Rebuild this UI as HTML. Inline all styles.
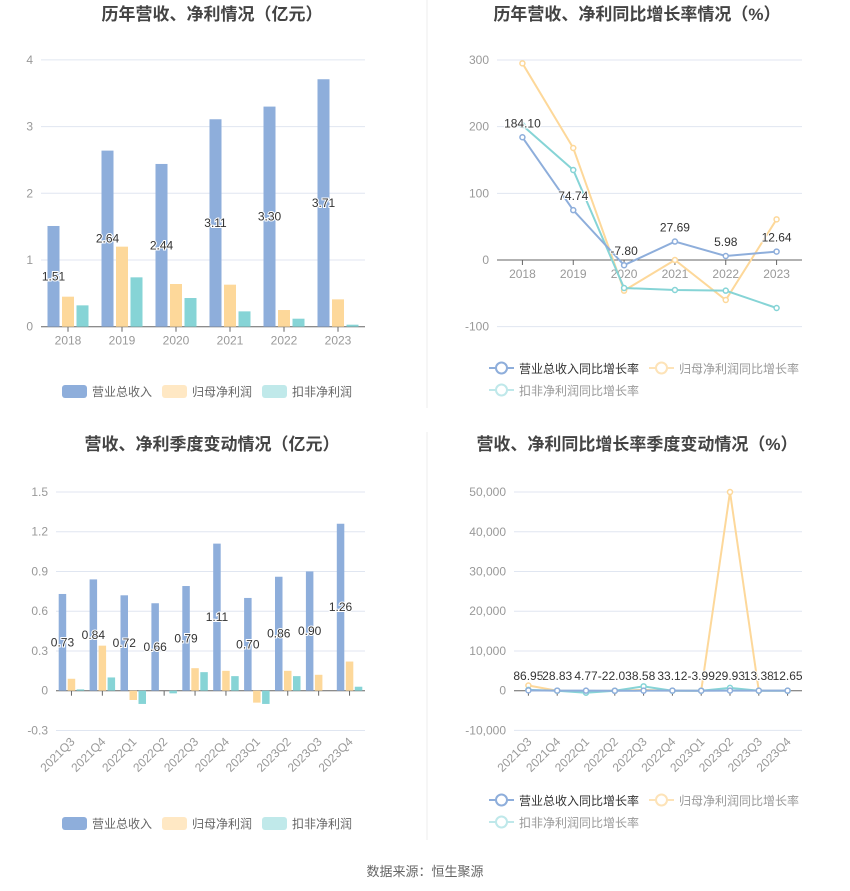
<!DOCTYPE html>
<html><head><meta charset="utf-8">
<style>
body{margin:0;background:#fff;width:850px;height:891px;overflow:hidden;font-family:"Liberation Sans","Noto Sans CJK SC",sans-serif}
svg{position:absolute;left:0;top:0}
</style></head>
<body>
<svg id="c" width="850" height="891" xmlns="http://www.w3.org/2000/svg">
<line x1="427" y1="0" x2="427" y2="408" stroke="#eee"/>
<line x1="427" y1="432" x2="427" y2="840" stroke="#eee"/>
<text x="212" y="20" text-anchor="middle" font-size="17" font-weight="bold" fill="#444">历年营收、净利情况（亿元）</text>
<text x="637" y="20" text-anchor="middle" font-size="17" font-weight="bold" fill="#444">历年营收、净利同比增长率情况（%）</text>
<text x="212" y="450" text-anchor="middle" font-size="17" font-weight="bold" fill="#444">营收、净利季度变动情况（亿元）</text>
<text x="637" y="450" text-anchor="middle" font-size="17" font-weight="bold" fill="#444">营收、净利同比增长率季度变动情况（%）</text>
<text x="425" y="876" text-anchor="middle" font-size="13" fill="#666">数据来源：恒生聚源</text>
</svg>
<script>
const years=["2018","2019","2020","2021","2022","2023"];
const revA=[1.51,2.64,2.44,3.11,3.30,3.71];
const netA=[0.45,1.20,0.64,0.63,0.25,0.41];
const dedA=[0.32,0.74,0.43,0.23,0.12,0.03];
const yTicksA=[0,1,2,3,4];
const revGA=[184.10,74.74,-7.80,27.69,5.98,12.64];
const netGA=[295,168,-46,0,-60,61];
const dedGA=[202,135,-42,-45,-46,-72];
const yTicksB=[-100,0,100,200,300];
const quarters=["2021Q3","2021Q4","2022Q1","2022Q2","2022Q3","2022Q4","2023Q1","2023Q2","2023Q3","2023Q4"];
const revQ=[0.73,0.84,0.72,0.66,0.79,1.11,0.70,0.86,0.90,1.26];
const netQ=[0.09,0.34,-0.07,0,0.17,0.15,-0.09,0.15,0.12,0.22];
const dedQ=[0.01,0.10,-0.10,-0.02,0.14,0.11,-0.10,0.11,0,0.03];
const yTicksC=[-0.3,0,0.3,0.6,0.9,1.2,1.5];
const revGQ=[86.95,28.83,4.77,-22.03,8.58,33.12,-3.99,29.93,13.38,12.65];
const netGQ=[1300,0,-100,0,200,0,0,50000,0,0];
const dedGQ=[200,0,-500,0,1100,0,0,700,0,0];
const yTicksD=[-10000,0,10000,20000,30000,40000,50000];

const svg=document.getElementById('c');const NS="http://www.w3.org/2000/svg";
function mk(t,a,txt){const e=document.createElementNS(NS,t);for(const k in a)e.setAttribute(k,a[k]);if(txt!=null)e.textContent=txt;svg.appendChild(e);return e;}
const C1="#8eaedb",C2="#fdd89a",C3="#86d4d6";

function axes(x0,x1,yOf,ticks,fmt,cats,rot,pfx){
  ticks.forEach(t=>{const y=yOf(t);
    const g=mk('line',{x1:x0,x2:x1,y1:y,y2:y,stroke:t===0?"#666":"#e0e6f1"});
    
    const l=mk('text',{x:x0-8,y:y+4,'text-anchor':'end','font-size':12,fill:'#999'},fmt(t));
    });
  const w=(x1-x0)/cats.length,y0=yOf(0);
  cats.forEach((c,i)=>{const cx=x0+w*(i+0.5);
    const tk=mk('line',{x1:cx,x2:cx,y1:y0,y2:y0+5,stroke:'#666'});
    
    let l;
    if(rot){const ty=yOf(ticks[0])+12;l=mk('text',{x:cx+4,y:ty,'text-anchor':'end','font-size':12,fill:'#999',transform:`rotate(-45 ${cx+4} ${ty})`},c);}
    else l=mk('text',{x:cx,y:y0+18,'text-anchor':'middle','font-size':12,fill:'#999'},c);
    });
  return w;
}
function bars(x0,x1,yOf,ticks,cats,series,labels,rot,pfx,bw,gap){
  const w=axes(x0,x1,yOf,ticks,t=>String(t),cats,rot,pfx);const cols=[C1,C2,C3];
  series.forEach((s,si)=>s.forEach((v,i)=>{const cx=x0+w*(i+0.5)+(si-1)*(bw+gap);
    const y=yOf(v),y0=yOf(0);
    const r=mk('rect',{x:cx-bw/2,y:Math.min(y,y0),width:bw,height:Math.abs(y0-y),fill:cols[si]});
    }));
  labels.forEach((v,i)=>{const cx=x0+w*(i+0.5)-(bw+gap);const y=(yOf(v)+yOf(0))/2;
    const l=mk('text',{x:cx,y:y+4,'text-anchor':'middle','font-size':12,fill:'#333',stroke:'#fff','stroke-width':2,'paint-order':'stroke'},v.toFixed(2));
    });
}
function lines(x0,x1,yOf,ticks,fmt,cats,series,labels,rot,pfx,lblY){
  const w=axes(x0,x1,yOf,ticks,fmt,cats,rot,pfx);const cols=[C1,C2,C3];
  [1,2,0].forEach(si=>{const s=series[si];
    const pts=s.map((v,i)=>[x0+w*(i+0.5),yOf(v)]);
    const p=mk('polyline',{points:pts.map(p=>p.join(',')).join(' '),fill:'none',stroke:cols[si],'stroke-width':2});
    
    pts.forEach(q=>{const c=mk('circle',{cx:q[0],cy:q[1],r:2.5,fill:'#fff',stroke:cols[si],'stroke-width':1.5});
      });});
  labels.forEach((v,i)=>{const cx=x0+w*(i+0.5);const y=lblY?lblY:yOf(v)-10;
    const l=mk('text',{x:cx,y:y,'text-anchor':'middle','font-size':12,fill:'#333',stroke:'#fff','stroke-width':2,'paint-order':'stroke'},v.toFixed(2));
    });
}
function legendBars(y,pfx){const it=[["营业总收入",C1,62],["归母净利润","#ffe8c4",162],["扣非净利润","#c0e9ea",262]];
  it.forEach(a=>{const r=mk('rect',{x:a[2],y:y-6,width:25,height:13,rx:3,fill:a[1]});
    
    const t=mk('text',{x:a[2]+30,y:y+5,'font-size':12,fill:'#666'},a[0]);
    });}
function legendLines(y,pfx){const it=[["营业总收入同比增长率",C1,489,y,"#333"],["归母净利润同比增长率","#fde3b8",649,y,"#999"],["扣非净利润同比增长率","#bfe8ea",489,y+22,"#999"]];
  it.forEach(a=>{const l=mk('line',{x1:a[2],x2:a[2]+25,y1:a[3],y2:a[3],stroke:a[1],'stroke-width':2});
    
    const c=mk('circle',{cx:a[2]+12.5,cy:a[3],r:5.5,fill:'#fff',stroke:a[1],'stroke-width':2});
    
    const t=mk('text',{x:a[2]+30,y:a[3]+5,'font-size':12,fill:a[4]},a[0]);
    });}

// chart1
bars(41,365,v=>326.7-v*66.7,yTicksA,years,[revA,netA,dedA],revA,false,'annual',12,2.5);
legendBars(391,'annual');
// chart2
lines(497,802,v=>260-v*0.6667,yTicksB,t=>String(t),years,[revGA,netGA,dedGA],revGA,false,'annual-growth');
legendLines(368,'annual-growth');
// chart3
bars(56,365,v=>690.7-v*132.5,yTicksC,quarters,[revQ,netQ,dedQ],revQ,true,'quarterly',7.5,1.5);
legendBars(823,'quarterly');
// chart4
lines(514,802,v=>690.7-v*0.003973,yTicksD,t=>t.toLocaleString('en-US'),quarters,[revGQ,netGQ,dedGQ],revGQ,true,'quarterly-growth',680);
legendLines(800,'quarterly-growth');
</script>
</body></html>
